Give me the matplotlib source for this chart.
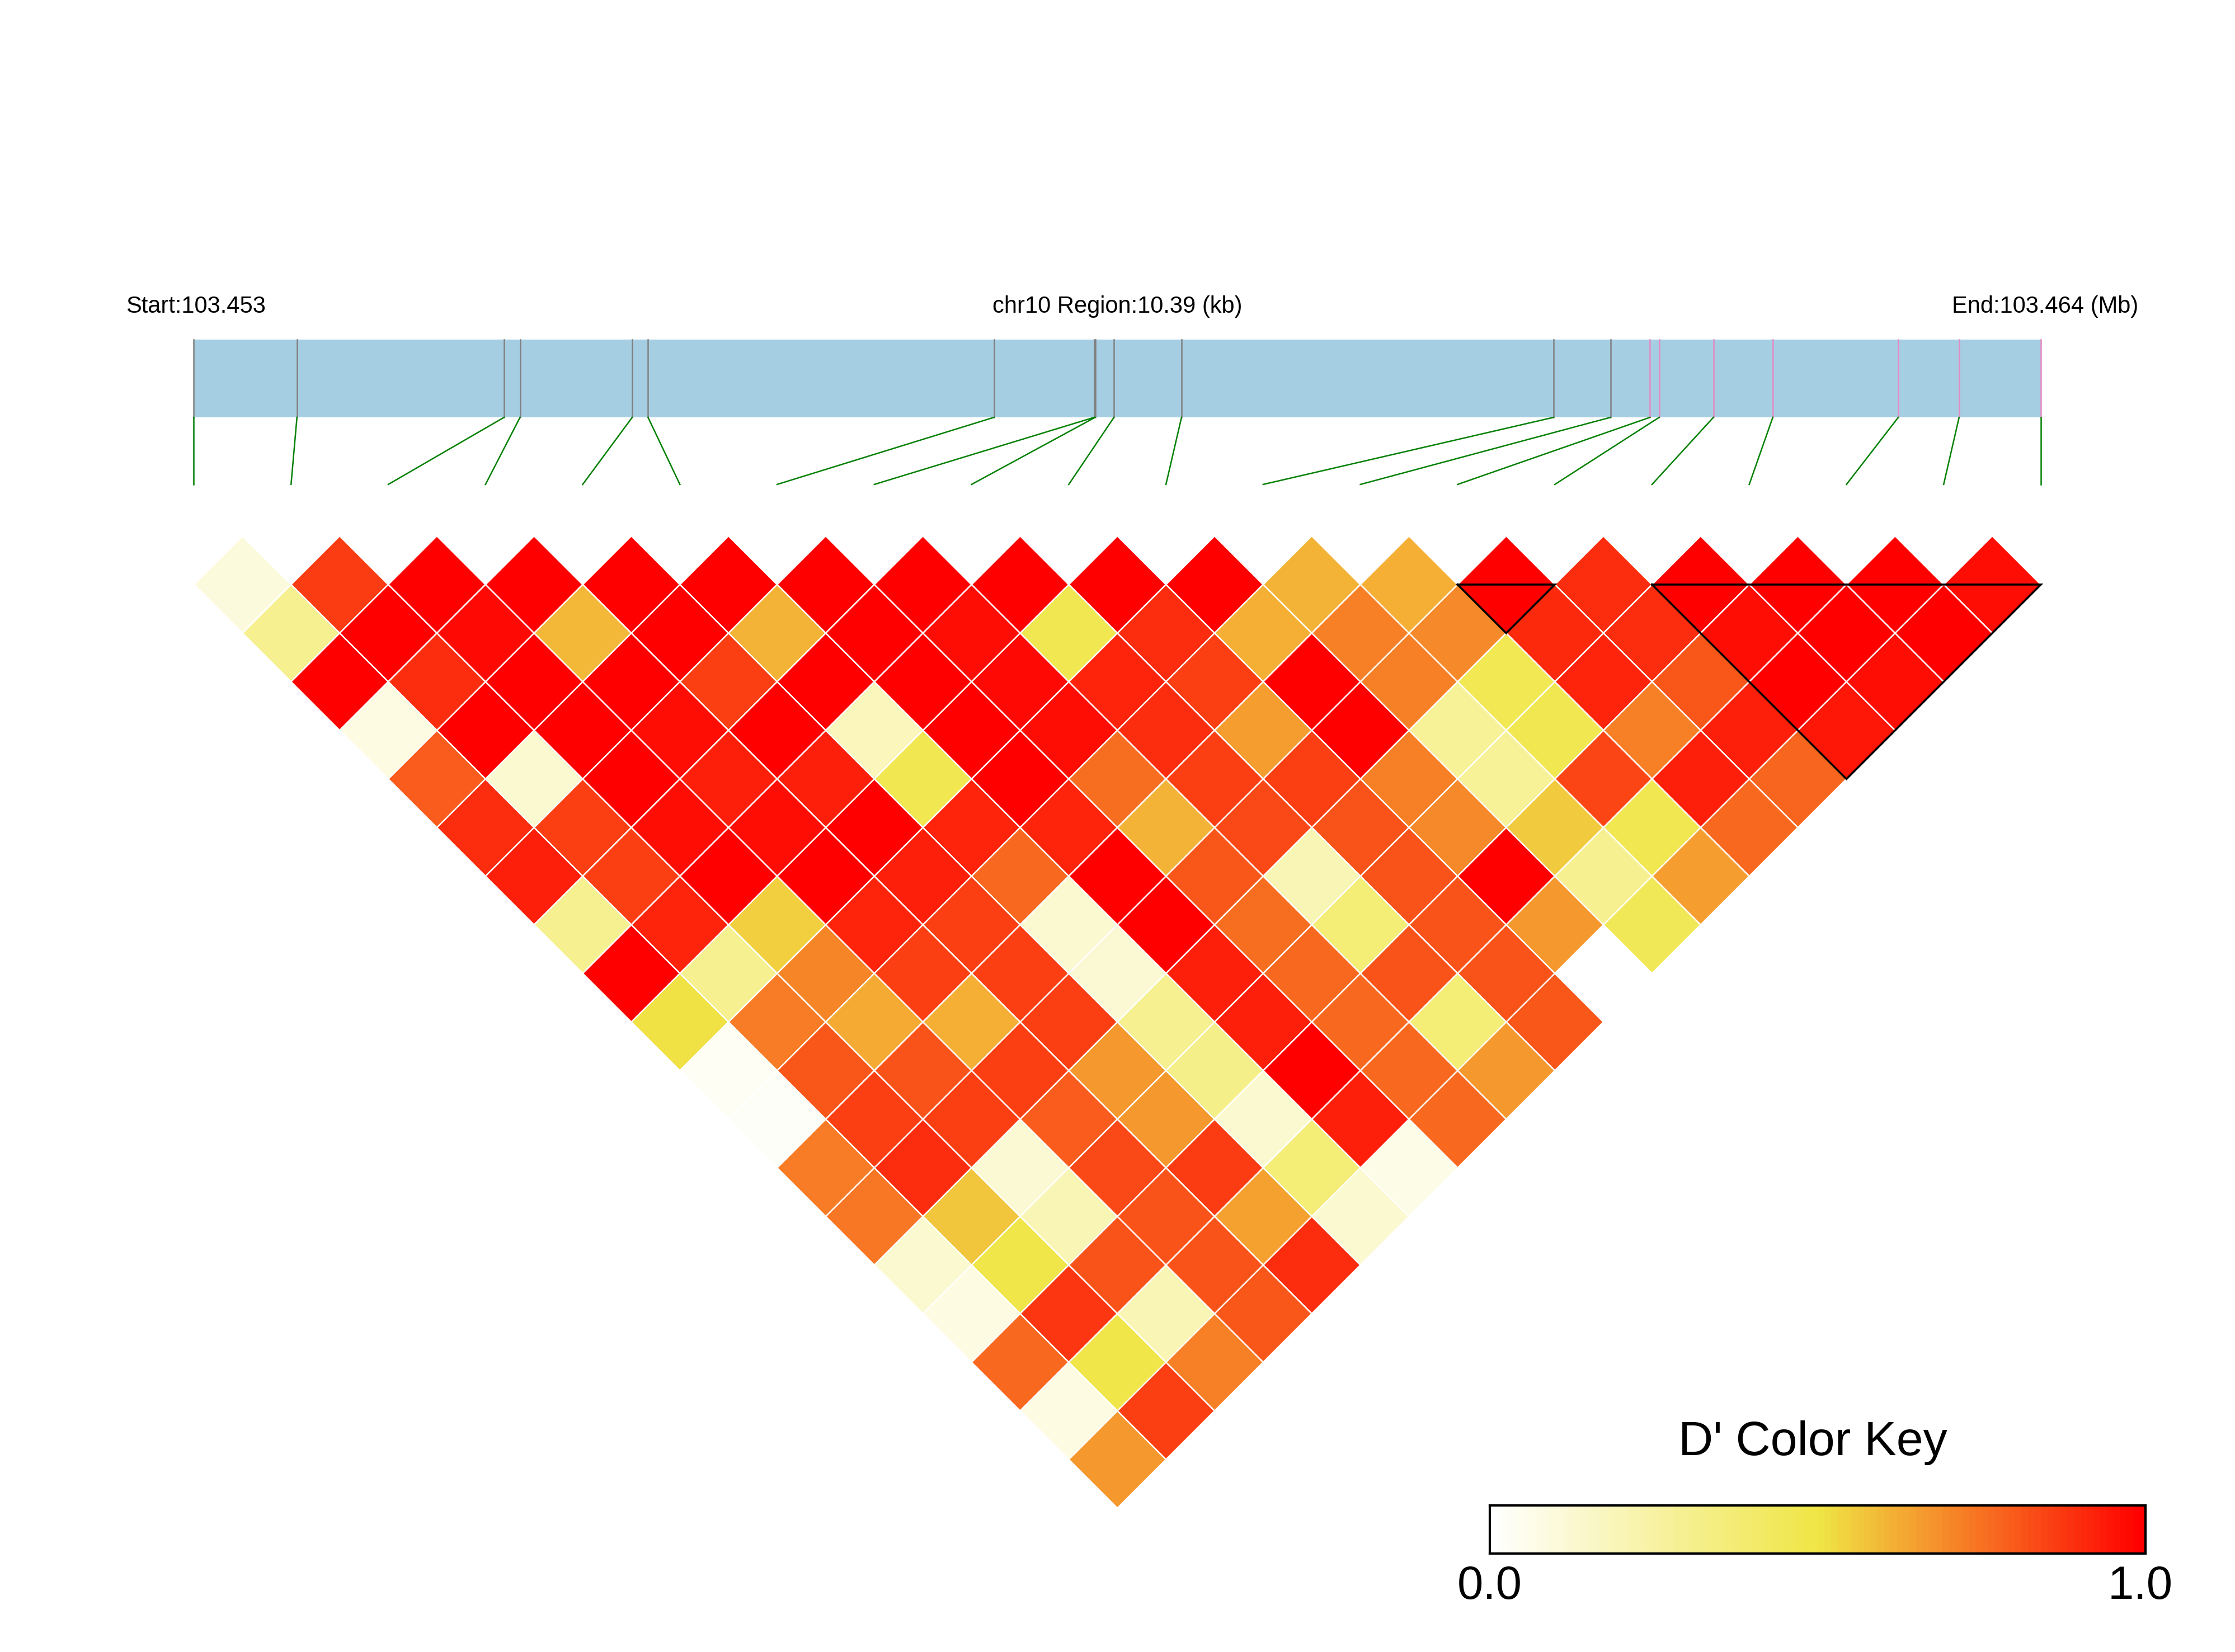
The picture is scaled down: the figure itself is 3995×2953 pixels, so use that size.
import numpy as np
import matplotlib
matplotlib.use('Agg')
import matplotlib.pyplot as plt
from matplotlib.colors import LinearSegmentedColormap
from matplotlib.collections import PolyCollection

plt.rcParams['font.family'] = ['Liberation Sans', 'DejaVu Sans']

#snp positions (bp) on chr10
chrom = 'chr10'
snp_pos = [103453400, 103453980, 103455145, 103455235, 103455866, 103455955,
           103457901, 103458465, 103458470, 103458576, 103458956, 103461049,
           103461369, 103461591, 103461643, 103461948, 103462282, 103462988,
           103463330, 103463790]

#D' values, one list per snp distance d: pairs (i, i+d)
nan = np.nan
dprime_d1 = [0.09, 0.87, 1, 1, 1, 1, 1, 1, 1, 1, 1, 0.61, 0.62, 1, 0.9, 1, 1, 1, 0.97]
dprime_d2 = [0.3, 1, 0.98, 0.6, 1, 0.61, 1, 0.97, 0.47, 0.9, 0.62, 0.72, 0.7, 0.91, 0.9, 0.97, 1, 1]
dprime_d3 = [1, 0.9, 1, 1, 0.86, 1, 1, 0.98, 0.92, 0.86, 1, 0.72, 0.46, 0.92, 0.81, 1, 0.97]
dprime_d4 = [0.08, 1, 1, 0.97, 1, 0.18, 1, 0.97, 0.9, 0.66, 1, 0.28, 0.47, 0.72, 0.93, 0.95]
dprime_d5 = [0.8, 0.13, 1, 0.93, 0.93, 0.47, 1, 0.76, 0.86, 0.86, 0.72, 0.28, 0.85, 0.93, 0.78]
dprime_d6 = [0.9, 0.86, 0.97, 0.97, 1, 0.92, 0.92, 0.61, 0.84, 0.82, 0.7, 0.56, 0.47, 0.77]
dprime_d7 = [0.93, 0.86, 1, 1, 0.93, 0.77, 1, 0.81, 0.2, 0.82, 1, 0.3, 0.66]
dprime_d8 = [0.3, 0.92, 0.55, 0.92, 0.86, 0.13, 1, 0.76, 0.37, 0.82, 0.67, 0.45]
dprime_d9 = [1, 0.3, 0.71, 0.86, 0.86, 0.12, 0.93, 0.77, 0.82, 0.82, nan]
dprime_d10 = [0.51, 0.73, 0.63, 0.62, 0.86, 0.3, 0.93, 0.77, 0.37, 0.81]
dprime_d11 = [0.03, 0.81, 0.82, 0.86, 0.67, 0.32, 1, 0.77, 0.67]
dprime_d12 = [0.02, 0.86, 0.86, 0.8, 0.67, 0.13, 0.93, 0.77]
dprime_d13 = [0.73, 0.9, 0.12, 0.84, 0.87, 0.37, 0.07]
dprime_d14 = [0.74, 0.57, 0.2, 0.82, 0.65, 0.13]
dprime_d15 = [0.13, 0.49, 0.82, 0.82, 0.9]
dprime_d16 = [0.08, 0.88, 0.2, 0.81]
dprime_d17 = [0.77, 0.49, 0.72]
dprime_d18 = [0.08, 0.86]
dprime_d19 = [0.67]
dprime_rows = [dprime_d1, dprime_d2, dprime_d3, dprime_d4, dprime_d5, dprime_d6,
               dprime_d7, dprime_d8, dprime_d9, dprime_d10, dprime_d11, dprime_d12,
               dprime_d13, dprime_d14, dprime_d15, dprime_d16, dprime_d17,
               dprime_d18, dprime_d19]

#ld blocks as (first snp, last snp) indices
blocks = [(13, 14), (15, 19)]

n = len(snp_pos)
start, end = snp_pos[0], snp_pos[-1]

cmap = LinearSegmentedColormap.from_list('dprime', ['#FFFFFF', '#F0E645', '#FF0000'])

fig = plt.figure(figsize=(39.95, 29.53), dpi=100)
ax = fig.add_axes([0, 0, 1, 1])
ax.set_xlim(-1.994, 20.997)
ax.set_ylim(-11.48, 5.513)
ax.axis('off')

#heatmap diamonds
polys, vals = [], []
for d, row in enumerate(dprime_rows, start=1):
    for i, v in enumerate(row):
        if np.isnan(v):
            continue
        cx, cy = i + d / 2, -d / 2
        polys.append([(cx, cy + 0.5), (cx + 0.5, cy), (cx, cy - 0.5), (cx - 0.5, cy)])
        vals.append(v)
pc = PolyCollection(polys, cmap=cmap, edgecolors='white', linewidths=1.8)
pc.set_array(np.array(vals))
pc.set_clim(0, 1)
ax.add_collection(pc)

#block outlines
for a, b in blocks:
    tri = [(a, -0.5), (b, -0.5), ((a + b) / 2, -0.5 - (b - a) / 2), (a, -0.5)]
    ax.plot([p[0] for p in tri], [p[1] for p in tri], color='black', lw=2.6,
            solid_joinstyle='miter', zorder=5)

#gene bar with snp marks
bar_top, bar_bot, line_bot = 2.02, 1.22, 0.53
gx = [(p - start) / (end - start) * (n - 1) for p in snp_pos]
ax.fill_between([0, n - 1], bar_bot, bar_top, color='#A6CEE3', lw=0)
in_block = set()
for a, b in blocks:
    in_block.update(range(a, b + 1))
for i, x in enumerate(gx):
    c = '#E78AC3' if i in in_block else '#808080'
    ax.plot([x, x], [bar_bot, bar_top], color=c, lw=1.8)
    ax.plot([x, i], [bar_bot, line_bot], color='green', lw=1.8)

ax.text(-0.7, 2.36, 'Start:%.3f' % (start / 1e6), fontsize=30, ha='left', va='center')
ax.text((n - 1) / 2, 2.36, '%s Region:%.2f (kb)' % (chrom, (end - start) / 1000),
        fontsize=30, ha='center', va='center')
ax.text(20.0, 2.36, 'End:%.3f (Mb)' % (end / 1e6), fontsize=30, ha='right', va='center')

#color key
cax = fig.add_axes([0.6665, 0.0595, 0.2934, 0.0293])
grad = np.linspace(0, 1, 100).reshape(1, -1)
cax.imshow(grad, cmap=cmap, aspect='auto', extent=[0, 1, 0, 1], vmin=0, vmax=1)
cax.set_xticks([])
cax.set_yticks([])
for s in cax.spines.values():
    s.set_linewidth(3)
fig.text(0.8112, 0.1268, "D' Color Key", fontsize=62, ha='center', va='center')
fig.text(0.6665, 0.0397, '0.0', fontsize=60, ha='center', va='center')
fig.text(0.9575, 0.0397, '1.0', fontsize=60, ha='center', va='center')

plt.savefig('out.png', dpi=100)
